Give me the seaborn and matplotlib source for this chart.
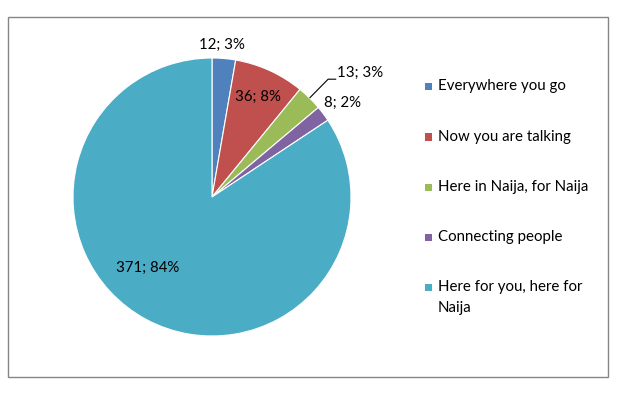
import matplotlib
matplotlib.use("Agg")
import matplotlib.pyplot as plt
import seaborn as sns
import numpy as np
from matplotlib.patches import Rectangle

categories = ["Everywhere you go", "Now you are talking", "Here in Naija, for Naija",
              "Connecting people", "Here for you, here for\nNaija"]
counts = [12, 36, 13, 8, 371]
percent_labels = ["3%", "8%", "3%", "2%", "84%"]
colors = ["#4F81BD", "#C0504D", "#9BBB59", "#8064A2", "#4BACC6"]

sns.set_theme(style="white")
plt.rcParams["font.family"] = ["Lato", "DejaVu Sans"]

W, H = 627, 399
fig = plt.figure(figsize=(W / 100, H / 100), dpi=100)
fig.patch.set_facecolor("white")

# outer frame
fig.add_artist(Rectangle((8 / W, 1 - 377 / H), 600 / W, 360 / H, transform=fig.transFigure,
                         fill=False, edgecolor="#868686", linewidth=1.0))

cx, cy, r = 212, 197, 139
ax = fig.add_axes([(cx - r) / W, 1 - (cy + r) / H, 2 * r / W, 2 * r / H])
palette = sns.color_palette(colors)
wedges, _ = ax.pie(counts, colors=palette, startangle=90, counterclock=False,
                   wedgeprops=dict(edgecolor="white", linewidth=0.8))
ax.set_xlim(-1, 1)
ax.set_ylim(-1, 1)
ax.axis("off")

# label placement: radius factor and clockwise angle tweak per slice (styling)
label_r = [1.10, 0.79, 1.19, 1.16, 0.69]
label_dang = [-1, 0, 0, 1, 14]
fs = 10.8
for i, w in enumerate(wedges):
    mid_deg = (w.theta1 + w.theta2) / 2
    ang = np.deg2rad(mid_deg - label_dang[i])
    x, y = label_r[i] * np.cos(ang), label_r[i] * np.sin(ang)
    txt = f"{counts[i]}; {percent_labels[i]}"
    if i == 2:
        ex, ey = np.cos(ang), np.sin(ang)
        ax.plot([ex, x, x + 0.058], [ey, y, y], color="black", lw=0.8,
                clip_on=False, solid_capstyle="butt")
        ax.text(x + 0.066, y + 0.045, txt, ha="left", va="center", fontsize=fs, color="black")
    else:
        ax.text(x, y, txt, ha="center", va="center", fontsize=fs, color="black")

# legend (manual, Excel-like)
rows_y = [86, 137, 187, 237, 287]
for i, (lab, col) in enumerate(zip(categories, palette)):
    yy = rows_y[i]
    fig.add_artist(Rectangle((425 / W, 1 - (yy + 3.5) / H), 7 / W, 7 / H,
                             transform=fig.transFigure, facecolor=col, edgecolor="none"))
    lines = lab.split("\n")
    for k, line in enumerate(lines):
        fig.text(438 / W, 1 - (yy + 21 * k) / H, line, ha="left", va="center",
                 fontsize=fs, color="black")

fig.savefig("out.png", dpi=100, facecolor="white")
